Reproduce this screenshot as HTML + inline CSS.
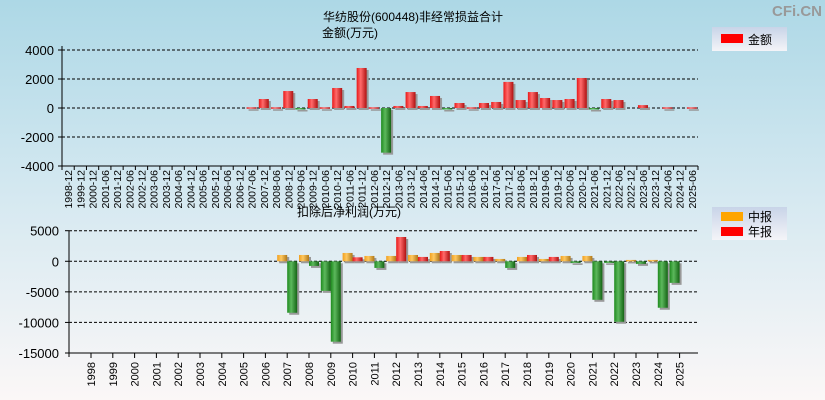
<!DOCTYPE html>
<html><head><meta charset="utf-8"><style>
html,body{margin:0;padding:0;}
body{width:825px;height:400px;overflow:hidden;font-family:"Liberation Sans","Noto Sans CJK SC",sans-serif;}
svg{display:block}
</style></head><body>
<svg id="chart" width="825" height="400" xmlns="http://www.w3.org/2000/svg" font-family="Liberation Sans, Noto Sans CJK SC, sans-serif">
<defs>
<linearGradient id="bg" x1="0" y1="0" x2="0" y2="1"><stop offset="0" stop-color="#add8e6"/><stop offset="0.5" stop-color="#d6e9f1"/><stop offset="1" stop-color="#fbf7f7"/></linearGradient>
<linearGradient id="gRed" x1="0" x2="1"><stop offset="0" stop-color="#e81818"/><stop offset="0.4" stop-color="#ff6a6a"/><stop offset="1" stop-color="#b01010"/></linearGradient>
<linearGradient id="gGreen" x1="0" x2="1"><stop offset="0" stop-color="#1e8a1e"/><stop offset="0.4" stop-color="#5cb85c"/><stop offset="1" stop-color="#146414"/></linearGradient>
<linearGradient id="gOrange" x1="0" x2="1"><stop offset="0" stop-color="#f0a020"/><stop offset="0.4" stop-color="#ffc860"/><stop offset="1" stop-color="#b07818"/></linearGradient>
<linearGradient id="lg" x1="0" y1="0" x2="0" y2="1"><stop offset="0" stop-color="#c8d4e8"/><stop offset="1" stop-color="#f4f4f8"/></linearGradient>
</defs>
<rect x="0" y="0" width="825" height="400" fill="url(#bg)"/>
<text x="822" y="16" text-anchor="end" font-size="15" font-weight="bold" fill="#999">CFi.CN</text>
<text x="323" y="21" font-size="12" fill="#000">华纺股份(600448)非经常损益合计</text>
<text x="322" y="37" font-size="12" fill="#000">金额(万元)</text>
<g>
<rect x="712" y="27" width="75" height="24" fill="url(#lg)"/>
<rect x="721" y="34" width="22" height="9" fill="#f00"/>
<text x="748" y="44" font-size="12">金额</text>
</g>
<text x="297" y="216" font-size="12" fill="#000">扣除后净利润(万元)</text>
<g>
<rect x="712" y="207" width="75" height="33" fill="url(#lg)"/>
<rect x="721" y="212" width="22" height="9" fill="#ffa500"/>
<text x="748" y="221" font-size="12">中报</text>
<rect x="721" y="227" width="22" height="9" fill="#f00"/>
<text x="748" y="236" font-size="12">年报</text>
</g>
<g id="top"></g>
<g id="bot"></g>
</svg>
<script>
const topCategories = ["1998-12","1999-12","2000-12","2001-06","2001-12","2002-06","2002-12","2003-06","2003-12","2004-06","2004-12","2005-06","2005-12","2006-06","2006-12","2007-06","2007-12","2008-06","2008-12","2009-06","2009-12","2010-06","2010-12","2011-06","2011-12","2012-06","2012-12","2013-06","2013-12","2014-06","2014-12","2015-06","2015-12","2016-06","2016-12","2017-06","2017-12","2018-06","2018-12","2019-06","2019-12","2020-06","2020-12","2021-06","2021-12","2022-06","2022-12","2023-06","2023-12","2024-06","2024-12","2025-06"];
const topValues = [0,0,0,0,0,0,0,0,0,0,0,0,0,0,0,50,620,50,1170,-60,620,50,1380,140,2760,50,-3080,140,1100,140,830,-60,345,50,345,415,1800,550,1100,690,550,620,2070,-60,620,550,0,200,0,50,0,50];
const topTicks = [4000,2000,0,-2000,-4000];
const years = ["1998","1999","2000","2001","2002","2003","2004","2005","2006","2007","2008","2009","2010","2011","2012","2013","2014","2015","2016","2017","2018","2019","2020","2021","2022","2023","2024","2025"];
const interimValues = [0,0,0,0,0,0,0,0,0,1030,1030,-4840,1360,870,870,1030,1360,1030,710,380,710,380,870,870,-270,220,220,-3530];
const annualValues = [0,0,0,0,0,0,0,0,0,-8420,-760,-13150,650,-1090,3970,710,1680,1030,710,-1090,1030,710,-270,-6300,-9890,-430,-7600,null];
const botTicks = [5000,0,-5000,-10000,-15000];

const NS="http://www.w3.org/2000/svg";
function mk(tag,attrs,parent){const e=document.createElementNS(NS,tag);for(const k in attrs)e.setAttribute(k,attrs[k]);parent.appendChild(e);return e;}

// top chart
const T={x0:62,x1:698,yTop:50,yBot:166,vmax:4000,vmin:-4000};
const ty=v=>T.yTop+(T.vmax-v)/(T.vmax-T.vmin)*(T.yBot-T.yTop);
const bw=(T.x1-T.x0)/topCategories.length;
const tx=i=>T.x0+bw*(i+0.5);
const gt=document.getElementById('top');
topTicks.forEach(t=>{
  const y=ty(t);
  if(t!==-4000){const l=mk('line',{x1:T.x0,x2:T.x1,y1:y,y2:y,stroke:'#000','stroke-dasharray':'3,2','stroke-width':1},gt);
  
  }
  mk('line',{x1:T.x0-4,x2:T.x0,y1:y,y2:y,stroke:'#000'},gt);
  const tt=mk('text',{x:T.x0-8,y:y+5,'text-anchor':'end','font-size':13},gt);tt.textContent=t;
  
  
});
mk('line',{x1:T.x0,x2:T.x0,y1:T.yTop-4,y2:T.yBot,stroke:'#000'},gt);
mk('line',{x1:T.x0,x2:T.x1,y1:T.yBot,y2:T.yBot,stroke:'#000'},gt);
for(let i=0;i<=topCategories.length;i++){mk('line',{x1:T.x0+bw*i,x2:T.x0+bw*i,y1:T.yBot,y2:T.yBot+4,stroke:'#000'},gt);}
topCategories.forEach((c,i)=>{
  const x=tx(i)+4;
  const t=mk('text',{x:0,y:0,transform:`translate(${x},${T.yBot+4}) rotate(-90)`,'text-anchor':'end','font-size':10.5},gt);t.textContent=c;
  
  
  const v=topValues[i];
  if(v===null||v===0)return;
  const y0=ty(0),y1=ty(v);
  const top=Math.min(y0,y1),h=Math.max(Math.abs(y1-y0),1.5);
  mk('rect',{x:tx(i)-5+2,y:top+2,width:10,height:h,fill:'#999'},gt);
  const r=mk('rect',{x:tx(i)-5,y:top,width:10,height:h,fill:v>0?'url(#gRed)':'url(#gGreen)'},gt);
  
  
});

// bottom chart
const B={x0:69,x1:698,yTop:230.7,yBot:353,vmax:5000,vmin:-15000,first:91,step:21.8};
const by=v=>B.yTop+(B.vmax-v)/(B.vmax-B.vmin)*(B.yBot-B.yTop);
const bx=i=>B.first+B.step*i;
const gb=document.getElementById('bot');
botTicks.forEach(t=>{
  const y=by(t);
  if(t!==-15000){const l=mk('line',{x1:B.x0,x2:B.x1,y1:y,y2:y,stroke:'#000','stroke-dasharray':'3,2'},gb);
  
  }
  mk('line',{x1:B.x0-4,x2:B.x0,y1:y,y2:y,stroke:'#000'},gb);
  const tt=mk('text',{x:B.x0-10,y:y+5,'text-anchor':'end','font-size':13},gb);tt.textContent=t;
  
  
});
mk('line',{x1:B.x0,x2:B.x0,y1:B.yTop,y2:B.yBot+4,stroke:'#000'},gb);
mk('line',{x1:B.x0,x2:B.x1,y1:B.yBot,y2:B.yBot,stroke:'#000'},gb);
function bar(x,v,fill,name){
  if(v===null||v===0)return;
  const y0=by(0),y1=by(v);const top=Math.min(y0,y1),h=Math.max(Math.abs(y1-y0),1.5);
  mk('rect',{x:x+2,y:top+2,width:10,height:h,fill:'#999'},gb);
  const r=mk('rect',{x:x,y:top,width:10,height:h,fill:fill},gb);
  
  
}
years.forEach((yr,i)=>{
  const x=bx(i);
  mk('line',{x1:x,x2:x,y1:B.yBot,y2:B.yBot+5,stroke:'#000'},gb);
  const t=mk('text',{x:0,y:0,transform:`translate(${x+4},${B.yBot+9}) rotate(-90)`,'text-anchor':'end','font-size':11},gb);t.textContent=yr;
  
  
  const iv=interimValues[i],av=annualValues[i];
  bar(x-10,iv,iv>0?'url(#gOrange)':'url(#gGreen)','bar-interim-'+yr);
  bar(x,av,av>0?'url(#gRed)':'url(#gGreen)','bar-annual-'+yr);
});
</script>
</body></html>
